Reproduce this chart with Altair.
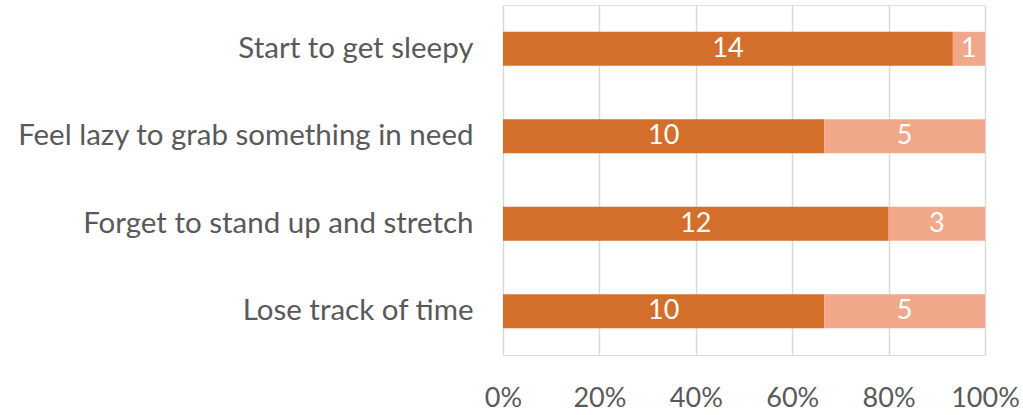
import altair as alt
import pandas as pd

categories = ["Start to get sleepy", "Feel lazy to grab something in need",
              "Forget to stand up and stretch", "Lose track of time"]
series_a = [14, 10, 12, 10]
series_b = [1, 5, 3, 5]
series_names = ["Yes", "No"]
colors = ["#D36E2B", "#F1A88A"]

rows = []
for c, a, b in zip(categories, series_a, series_b):
    rows.append({"cat": c, "series": series_names[0], "order": 0, "value": a})
    rows.append({"cat": c, "series": series_names[1], "order": 1, "value": b})
df = pd.DataFrame(rows)

FONT = "Lato"
GRAY = "#595959"

base = alt.Chart(df).transform_stack(
    stack="value", groupby=["cat"], as_=["x0", "x1"], offset="normalize",
    sort=[alt.SortField("order", order="ascending")]
).transform_calculate(mid="(datum.x0 + datum.x1) / 2")

y_enc = alt.Y("cat:N", sort=categories, title=None,
              scale=alt.Scale(paddingInner=0.61, paddingOuter=0.305),
              axis=alt.Axis(domain=False, ticks=False, labelFontSize=29.5,
                            labelFont=FONT, labelColor=GRAY, labelPadding=30,
                            labelLimit=700))

bars = base.mark_bar().encode(
    x=alt.X("x0:Q", title=None, scale=alt.Scale(domain=[0, 1]),
            axis=alt.Axis(format="%", values=[0, 0.2, 0.4, 0.6, 0.8, 1.0],
                          domain=False, ticks=False, labelFontSize=27,
                          labelFont=FONT, labelColor=GRAY, labelPadding=30,
                          labelFlush=False, labelOverlap=False,
                          gridColor="#D9D9D9", gridWidth=1.5)),
    x2="x1:Q",
    y=y_enc,
    color=alt.Color("series:N", scale=alt.Scale(domain=series_names, range=colors),
                    legend=None),
)

labels = base.mark_text(color="white", fontSize=27, font=FONT, baseline="middle").encode(
    x="mid:Q",
    y=alt.Y("cat:N", sort=categories),
    text="value:Q",
)

chart = (bars + labels).properties(
    width=482, height=350,
    autosize=alt.AutoSizeParams(type="none"),
    padding={"left": 503, "top": 5, "right": 38, "bottom": 60},
).configure_view(stroke=None).configure(background="white")

chart.save("out.html", embed_options={"renderer": "svg", "actions": False})
